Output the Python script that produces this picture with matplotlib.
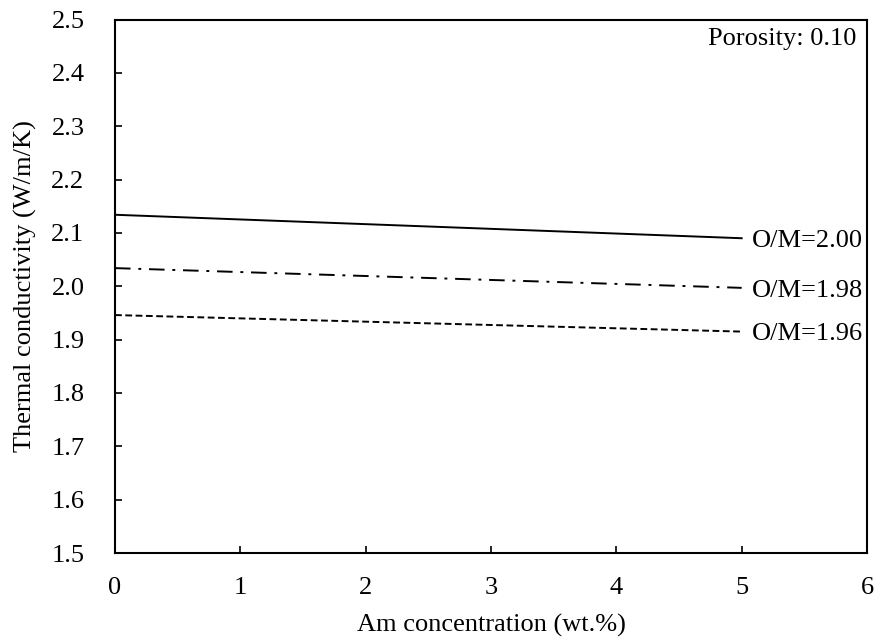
import numpy as np
import matplotlib.pyplot as plt

plt.rcParams['font.family']       = 'Liberation Serif'
plt.rcParams['font.size']         = 19
plt.rcParams['xtick.direction']   = 'in'
plt.rcParams['ytick.direction']   = 'in'
plt.rcParams['axes.linewidth']    = 1.5

am_conc = [0, 5]
om_labels = ['O/M=2.00', 'O/M=1.98', 'O/M=1.96']
conductivity = [
    [2.134, 2.090],
    [2.034, 1.997],
    [1.946, 1.915],
]
styles = ['-', (0, (8, 4, 1.5, 4)), (0, (3.5, 1.8))]

fig = plt.figure(figsize=(8.76, 6.4), dpi=100)
ax = fig.add_axes([115/876, 1-553/640, 752/876, 533.5/640])

for label, vals, ls in zip(om_labels, conductivity, styles):
    ax.plot(am_conc, vals, color='k', lw=1.4, linestyle=ls)
    ax.annotate(label, (am_conc[-1], vals[-1]), xytext=(7, -2),
                textcoords='offset points', va='center', ha='left')

ax.text(0.986, 0.985, 'Porosity: 0.10', transform=ax.transAxes,
        ha='right', va='top')

ax.set_xlim(0, 6)
ax.set_ylim(1.5, 2.5)
ax.set_xticks(range(7))
ax.set_yticks(np.arange(1.5, 2.51, 0.1))
ax.set_yticklabels([f'{v:.1f}' for v in np.arange(1.5, 2.51, 0.1)])
ax.tick_params(length=5, width=1.2)
ax.tick_params(axis='y', pad=22)
ax.tick_params(axis='x', pad=17)
ax.set_xlabel('Am concentration (wt.%)', labelpad=11)
ax.set_ylabel('Thermal conductivity (W/m/K)', labelpad=10)

fig.savefig('out.png', dpi=100)
